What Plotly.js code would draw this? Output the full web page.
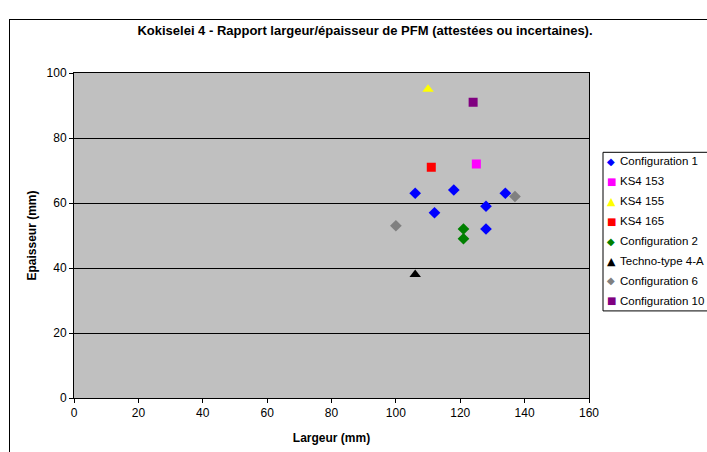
<!DOCTYPE html>
<html><head><meta charset="utf-8">
<script src="https://cdn.plot.ly/plotly-3.0.1.min.js"></script>
<style>
html,body{margin:0;padding:0;background:#fff;overflow:hidden;}
#frame{position:absolute;left:9px;top:19px;width:800px;height:500px;border:1px solid #000;}
#chart{position:absolute;left:0;top:0;width:707px;height:452px;}
</style></head><body>
<div id="frame"></div>
<div id="chart"></div>
<script>
const seriesNames = ["Configuration 1","KS4 153","KS4 155","KS4 165","Configuration 2","Techno-type 4-A","Configuration 6","Configuration 10"];
const config1X = [106,118,134,128,112,128];
const config1Y = [63,64,63,59,57,52];
const ks4153X = [125]; const ks4153Y = [72];
const ks4155X = [110]; const ks4155Y = [95];
const ks4165X = [111]; const ks4165Y = [71];
const config2X = [121,121]; const config2Y = [52,49];
const technoX = [106]; const technoY = [38];
const config6X = [100,137]; const config6Y = [53,62];
const config10X = [124]; const config10Y = [91];

const xs = [config1X,ks4153X,ks4155X,ks4165X,config2X,technoX,config6X,config10X];
const ys = [config1Y,ks4153Y,ks4155Y,ks4165Y,config2Y,technoY,config6Y,config10Y];
const colors = ["#0000FF","#FF00FF","#FFFF00","#FF0000","#008000","#000000","#808080","#800080"];
const symbols = ["diamond","square","triangle-up","square","diamond","triangle-up","diamond","square"];
const glyphs = {"diamond":"\u25C6","square":"\u25A0","triangle-up":"\u25B2"};
const sizes = [9,9,10,9,9,10,9,9];

const traces = seriesNames.map((n,i)=>({
  type:"scatter", mode:"markers", name:n, x:xs[i], y:ys[i], showlegend:false,
  marker:{color:colors[i], symbol:symbols[i], size:sizes[i], line:{width:0}}
}));

const L=74, R=589, T=72.5, B=398.3, W=707, H=452;
const pw = R-L, ph = B-T;
const px = v => (v-L)/pw;
const py = v => (B-v)/ph;

const annotations = [];
seriesNames.forEach((n,i)=>{
  const yc = py(161 + 20*i);
  annotations.push({xref:"paper", yref:"paper", x:px(611), y:yc, xanchor:"center", yanchor:"middle",
    text:glyphs[symbols[i]], showarrow:false, borderpad:0,
    font:{family:"DejaVu Sans", size:symbols[i]==="triangle-up"?11:10, color:colors[i]}});
  annotations.push({xref:"paper", yref:"paper", x:px(619), y:yc, xanchor:"left", yanchor:"middle",
    text:n, showarrow:false, borderpad:0, font:{size:11.5, color:"#000"}});
});

const layout = {
  width:W, height:H,
  paper_bgcolor:"rgba(0,0,0,0)", plot_bgcolor:"#C0C0C0",
  margin:{l:L, r:W-R, t:T, b:H-B, autoexpand:false},
  font:{family:"Liberation Sans, Arial, sans-serif", size:12, color:"#000"},
  title:{text:"<b>Kokiselei 4 - Rapport largeur/épaisseur de PFM (attestées ou incertaines).</b>",
    font:{size:13}, x:365/W, xref:"container", xanchor:"center", y:1-30/H, yanchor:"middle"},
  xaxis:{range:[0,160], dtick:20, tick0:0, showgrid:false, zeroline:false,
    showline:true, linecolor:"#000", linewidth:1, mirror:true,
    ticks:"outside", ticklen:4, tickcolor:"#000", tickfont:{size:12},
    title:{text:"<b>Largeur (mm)</b>", font:{size:12}, standoff:14}},
  yaxis:{range:[0,100], dtick:20, tick0:0, showgrid:true, gridcolor:"#000", gridwidth:1, zeroline:false,
    showline:true, linecolor:"#000", linewidth:1, mirror:true,
    ticks:"outside", ticklen:4, tickcolor:"#000", tickfont:{size:12},
    title:{text:"<b>Epaisseur (mm)</b>", font:{size:12}, standoff:7}},
  annotations: annotations,
  shapes:[{type:"rect", xref:"paper", yref:"paper", x0:px(603), x1:px(740), y0:py(152), y1:py(311),
    line:{color:"#000", width:1}, fillcolor:"#fff", layer:"below"}],
  showlegend:false
};
Plotly.newPlot("chart", traces, layout, {displayModeBar:false, staticPlot:true});
</script>
</body></html>
